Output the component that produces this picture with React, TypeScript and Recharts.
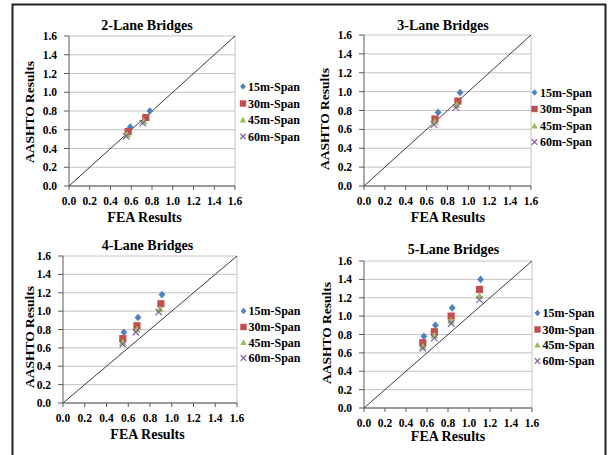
import React from "react";
import { ScatterChart, Scatter, XAxis, YAxis, CartesianGrid, ReferenceLine } from "recharts";

const FONT = '"Liberation Serif", "Times New Roman", serif';

const SERIES = ["15m-Span", "30m-Span", "45m-Span", "60m-Span"];
const COLORS = ["#4F81BD", "#C0504D", "#9BBB59", "#8064A2"];
const TITLES = ["2-Lane Bridges", "3-Lane Bridges", "4-Lane Bridges", "5-Lane Bridges"];
const TICKS = [0, 0.2, 0.4, 0.6, 0.8, 1.0, 1.2, 1.4, 1.6];
const X_TITLE = "FEA Results";
const Y_TITLE = "AASHTO Results";

// 2-lane
const lane2_15 = [{ x: 0.59, y: 0.63 }, { x: 0.78, y: 0.8 }];
const lane2_30 = [{ x: 0.57, y: 0.58 }, { x: 0.74, y: 0.73 }];
const lane2_45 = [{ x: 0.56, y: 0.55 }, { x: 0.72, y: 0.69 }];
const lane2_60 = [{ x: 0.55, y: 0.53 }, { x: 0.71, y: 0.67 }];
// 3-lane
const lane3_15 = [{ x: 0.71, y: 0.78 }, { x: 0.92, y: 0.99 }];
const lane3_30 = [{ x: 0.68, y: 0.71 }, { x: 0.9, y: 0.9 }];
const lane3_45 = [{ x: 0.68, y: 0.68 }, { x: 0.89, y: 0.86 }];
const lane3_60 = [{ x: 0.67, y: 0.65 }, { x: 0.88, y: 0.83 }];
// 4-lane
const lane4_15 = [{ x: 0.56, y: 0.77 }, { x: 0.69, y: 0.93 }, { x: 0.91, y: 1.18 }];
const lane4_30 = [{ x: 0.55, y: 0.7 }, { x: 0.68, y: 0.84 }, { x: 0.9, y: 1.08 }];
const lane4_45 = [{ x: 0.55, y: 0.66 }, { x: 0.68, y: 0.8 }, { x: 0.89, y: 1.02 }];
const lane4_60 = [{ x: 0.55, y: 0.64 }, { x: 0.67, y: 0.77 }, { x: 0.88, y: 0.99 }];
// 5-lane
const lane5_15 = [{ x: 0.57, y: 0.78 }, { x: 0.68, y: 0.9 }, { x: 0.84, y: 1.09 }, { x: 1.11, y: 1.4 }];
const lane5_30 = [{ x: 0.56, y: 0.71 }, { x: 0.67, y: 0.83 }, { x: 0.83, y: 1.0 }, { x: 1.1, y: 1.29 }];
const lane5_45 = [{ x: 0.56, y: 0.67 }, { x: 0.67, y: 0.79 }, { x: 0.83, y: 0.95 }, { x: 1.1, y: 1.22 }];
const lane5_60 = [{ x: 0.56, y: 0.65 }, { x: 0.67, y: 0.76 }, { x: 0.83, y: 0.92 }, { x: 1.1, y: 1.18 }];

const PANEL_DATA = [
  [lane2_15, lane2_30, lane2_45, lane2_60],
  [lane3_15, lane3_30, lane3_45, lane3_60],
  [lane4_15, lane4_30, lane4_45, lane4_60],
  [lane5_15, lane5_30, lane5_45, lane5_60],
];

// layout (page coordinates)
const LAYOUT = [
  { left: 0, top: 0, w: 305, h: 230, margin: { top: 36, right: 70, bottom: 14, left: 29 },
    titleX: 147, titleY: 29.5, xlX: 144.5, xlY: 222, ylX: 33.5, ylY: 112,
    legMarkX: 243, legTextX: 248, legY: [90.5, 107.5, 124, 140.5] },
  { left: 305, top: 0, w: 306, h: 230, margin: { top: 35, right: 80, bottom: 14, left: 19 },
    titleX: 443, titleY: 29.5, xlX: 448, xlY: 222, ylX: 328.5, ylY: 119,
    legMarkX: 534.5, legTextX: 540, legY: [96.5, 113, 130, 146] },
  { left: 0, top: 230, w: 305, h: 225, margin: { top: 26, right: 68, bottom: 22, left: 23 },
    titleX: 147.5, titleY: 249.5, xlX: 147.5, xlY: 438.5, ylX: 33.5, ylY: 337,
    legMarkX: 243.5, legTextX: 248.5, legY: [315, 331, 346.5, 362] },
  { left: 305, top: 230, w: 306, h: 225, margin: { top: 31, right: 79, bottom: 17, left: 19 },
    titleX: 453.5, titleY: 253.5, xlX: 448, xlY: 441, ylX: 331, ylY: 333,
    legMarkX: 537.5, legTextX: 542.5, legY: [317, 333.5, 349, 365] },
];

function Marker({ kind, cx, cy, color, s }: { kind: number; cx: number; cy: number; color: string; s: number }) {
  if (kind === 0) {
    return <polygon points={`${cx},${cy - s} ${cx + s * 0.9},${cy} ${cx},${cy + s} ${cx - s * 0.9},${cy}`} fill={color} />;
  }
  if (kind === 1) {
    return <rect x={cx - s} y={cy - s} width={2 * s} height={2 * s} fill={color} />;
  }
  if (kind === 2) {
    return <polygon points={`${cx},${cy - s} ${cx + s},${cy + s * 0.8} ${cx - s},${cy + s * 0.8}`} fill={color} />;
  }
  return (
    <path d={`M${cx - s * 0.85},${cy - s * 0.85}L${cx + s * 0.85},${cy + s * 0.85}M${cx - s * 0.85},${cy + s * 0.85}L${cx + s * 0.85},${cy - s * 0.85}`}
      stroke={color} strokeWidth={1.2} fill="none" />
  );
}

const tickStyle = { fill: "#000", fontSize: 11.5, fontWeight: 700, fontFamily: FONT, style: { fontFamily: FONT, fontWeight: 700 } };
const fmt = (v: number) => v.toFixed(1);

function Panel({ idx }: { idx: number }) {
  const L = LAYOUT[idx];
  const data = PANEL_DATA[idx];
  return (
    <div style={{ position: "absolute", left: L.left, top: L.top, fontFamily: FONT, fontWeight: 700 }}>
      <ScatterChart width={L.w} height={L.h} margin={L.margin}>
        <CartesianGrid vertical={false} stroke="#c4c4c4" strokeWidth={1} />
        <XAxis dataKey="x" type="number" domain={[0, 1.6]} ticks={TICKS} tickFormatter={fmt} interval={0}
          height={30} tickSize={4} tickMargin={7} tick={tickStyle}
          axisLine={{ stroke: "#595959" }} tickLine={{ stroke: "#595959" }} allowDataOverflow />
        <YAxis dataKey="y" type="number" domain={[0, 1.6]} ticks={TICKS} tickFormatter={fmt} interval={0}
          width={40} tickSize={5} tickMargin={7} tick={tickStyle}
          axisLine={{ stroke: "#595959" }} tickLine={{ stroke: "#595959" }} allowDataOverflow />
        <ReferenceLine x={1.6} stroke="#c4c4c4" />
        <ReferenceLine segment={[{ x: 0, y: 0 }, { x: 1.6, y: 1.6 }]} stroke="#3a3a3a" strokeWidth={1} />
        {data.map((pts, si) => (
          <Scatter key={SERIES[si]} name={SERIES[si]} data={pts} isAnimationActive={false}
            shape={(p: any) => <Marker kind={si} cx={p.cx} cy={p.cy} color={COLORS[si]} s={si === 1 ? 3.6 : 3.8} />} />
        ))}
      </ScatterChart>
    </div>
  );
}

export default function App() {
  return (
    <div style={{ position: "absolute", left: 0, top: 0, width: 611, height: 455, background: "#fff", overflow: "hidden" }}>
      {LAYOUT.map((_, i) => <Panel key={i} idx={i} />)}
      <svg width={611} height={455} style={{ position: "absolute", left: 0, top: 0, pointerEvents: "none" }}>
        <path d="M12.5,460V4.5H605.5V460" fill="none" stroke="#222" strokeWidth={2} />
        {LAYOUT.map((L, i) => (
          <g key={i} fontFamily={FONT} fontWeight={700} fill="#000">
            <text x={L.titleX} y={L.titleY} fontSize={14} textAnchor="middle">{TITLES[i]}</text>
            <text x={L.xlX} y={L.xlY} fontSize={14} textAnchor="middle">{X_TITLE}</text>
            <text x={L.ylX} y={L.ylY} fontSize={13.5} textAnchor="middle" transform={`rotate(-90 ${L.ylX} ${L.ylY})`}>{Y_TITLE}</text>
            {SERIES.map((s, si) => (
              <g key={s}>
                <Marker kind={si} cx={L.legMarkX} cy={L.legY[si] - 4} color={COLORS[si]} s={3.2} />
                <text x={L.legTextX} y={L.legY[si]} fontSize={12}>{s}</text>
              </g>
            ))}
          </g>
        ))}
      </svg>
    </div>
  );
}
